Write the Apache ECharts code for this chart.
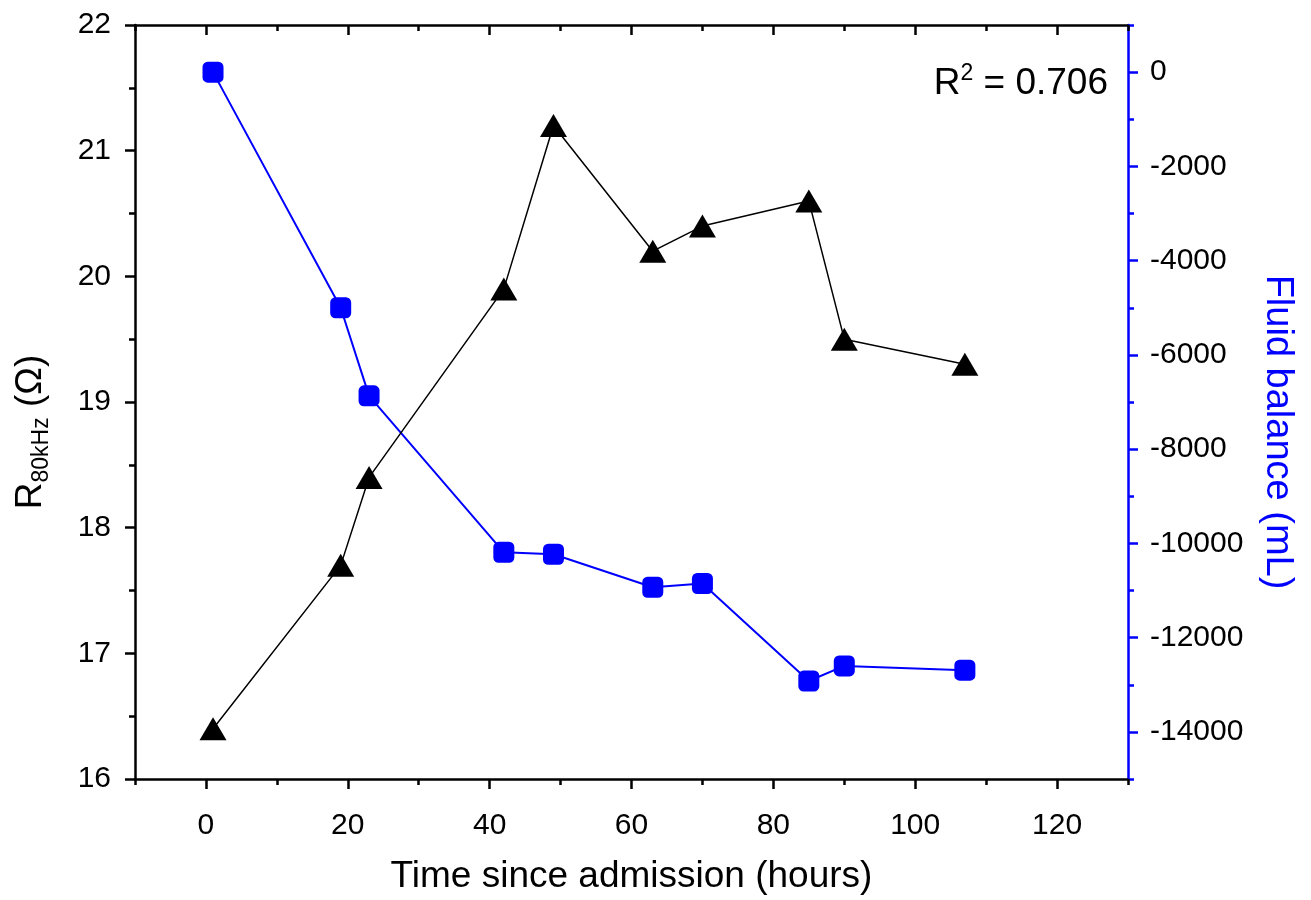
<!DOCTYPE html>
<html>
<head>
<meta charset="utf-8">
<script src="https://cdn.jsdelivr.net/npm/echarts@6/dist/echarts.min.js"></script>
<style>html,body{margin:0;padding:0;background:#fff;}#c{width:1311px;height:900px;}</style>
</head>
<body>
<div id="c"></div>
<script>
var hours = [1, 19, 23, 42, 49, 63, 70, 85, 90, 107];
var resistance = [16.4, 17.7, 18.4, 19.9, 21.2, 20.2, 20.4, 20.6, 19.5, 19.3];
var fluidBalance = [0, -5000, -6870, -10190, -10230, -10930, -10850, -12920, -12600, -12690];
var xTickLabels = [0, 20, 40, 60, 80, 100, 120];
var rightTickLabels = [-14000, -12000, -10000, -8000, -6000, -4000, -2000, 0];

var FONT = '"Liberation Sans", Arial, sans-serif';
var chart = echarts.init(document.getElementById('c'), null, {renderer: 'canvas'});

function pairs(xs, ys) { return xs.map(function (x, i) { return [x, ys[i]]; }); }
function plain(v) { return String(v); }

chart.setOption({
  animation: false,
  backgroundColor: '#fff',
  grid: {left: 135, right: 183, top: 25, bottom: 118, containLabel: false},
  xAxis: [
    {
      type: 'value', min: -10, max: 130, interval: 10, position: 'bottom',
      name: 'Time since admission (hours)', nameLocation: 'middle', nameGap: 79,
      nameTextStyle: {fontFamily: FONT, fontSize: 37, color: '#000'},
      axisLine: {show: true, onZero: false, lineStyle: {color: '#000', width: 2.5}},
      axisTick: {show: true, length: 10, lineStyle: {color: '#000', width: 2.5}, customValues: xTickLabels},
      axisLabel: {show: true, margin: 32, fontFamily: FONT, fontSize: 30, color: '#000', customValues: xTickLabels, formatter: plain},
      splitLine: {show: false}
    },
    {
      type: 'value', min: -10, max: 130, interval: 10, position: 'bottom', gridIndex: 0,
      axisLine: {show: false, onZero: false},
      axisTick: {show: true, length: 6, lineStyle: {color: '#000', width: 2.5}},
      axisLabel: {show: false}, splitLine: {show: false}
    },
    {
      type: 'value', min: -10, max: 130, interval: 10, position: 'top',
      axisLine: {show: true, onZero: false, lineStyle: {color: '#000', width: 2.5}},
      axisTick: {show: true, inside: true, length: 10, lineStyle: {color: '#000', width: 2.5}, customValues: xTickLabels},
      axisLabel: {show: false}, splitLine: {show: false}
    },
    {
      type: 'value', min: -10, max: 130, interval: 10, position: 'top',
      axisLine: {show: false, onZero: false},
      axisTick: {show: true, inside: true, length: 6, lineStyle: {color: '#000', width: 2.5}},
      axisLabel: {show: false}, splitLine: {show: false}
    }
  ],
  yAxis: [
    {
      type: 'value', min: 16, max: 22, interval: 1, position: 'left',
      name: '{r|R}{s|80kHz}{r| (Ω)}', nameLocation: 'middle', nameGap: 82, nameRotate: 90,
      nameTextStyle: {
        fontFamily: FONT, color: '#000', padding: [0, 60, 0, 0],
        rich: {
          r: {fontFamily: FONT, fontSize: 37, lineHeight: 44, color: '#000'},
          s: {fontFamily: FONT, fontSize: 23, lineHeight: 22, verticalAlign: 'bottom', color: '#000'}
        }
      },
      axisLine: {show: true, onZero: false, lineStyle: {color: '#000', width: 2.5}},
      axisTick: {show: true, length: 10, lineStyle: {color: '#000', width: 2.5}},
      minorTick: {show: true, splitNumber: 2, length: 6, lineStyle: {color: '#000', width: 2.5}},
      axisLabel: {margin: 24, fontFamily: FONT, fontSize: 30, color: '#000', formatter: plain},
      splitLine: {show: false}
    },
    {
      type: 'value', min: -15000, max: 1000, interval: 1000, position: 'right',
      name: 'Fluid balance (mL)', nameLocation: 'middle', nameGap: 130, nameRotate: -90,
      nameTextStyle: {fontFamily: FONT, fontSize: 38, color: '#0000ff', padding: [0, 0, 0, 60]},
      axisLine: {show: true, onZero: false, lineStyle: {color: '#0000ff', width: 2.5}},
      axisTick: {show: true, length: 10, lineStyle: {color: '#0000ff', width: 2.5}, customValues: rightTickLabels},
      axisLabel: {margin: 22, fontFamily: FONT, fontSize: 30, color: '#000', customValues: rightTickLabels, formatter: plain},
      splitLine: {show: false}
    },
    {
      type: 'value', min: -15000, max: 1000, interval: 1000, position: 'right',
      axisLine: {show: false, onZero: false},
      axisTick: {show: true, length: 6, lineStyle: {color: '#0000ff', width: 2.5}},
      axisLabel: {show: false}, splitLine: {show: false}
    }
  ],
  graphic: [
    {
      type: 'text', right: 1311 - 1108, top: 62, z: 10,
      style: {
        text: '{r|R}{p|2}{r| = 0.706}',
        fill: '#000',
        font: '37px ' + FONT,
        rich: {
          r: {fontFamily: FONT, fontSize: 37, lineHeight: 44, fill: '#000'},
          p: {fontFamily: FONT, fontSize: 23, lineHeight: 22, verticalAlign: 'top', fill: '#000'}
        }
      }
    }
  ],
  series: [
    {
      type: 'line', xAxisIndex: 0, yAxisIndex: 1,
      data: pairs(hours, fluidBalance),
      symbol: 'roundRect', symbolSize: 21,
      lineStyle: {color: '#0000ff', width: 2},
      itemStyle: {color: '#0000ff'},
      z: 3
    },
    {
      type: 'line', xAxisIndex: 0, yAxisIndex: 0,
      data: pairs(hours, resistance),
      symbol: 'triangle', symbolSize: [27, 23],
      lineStyle: {color: '#000', width: 1.5},
      itemStyle: {color: '#000'},
      z: 4
    }
  ]
});
</script>
</body>
</html>
